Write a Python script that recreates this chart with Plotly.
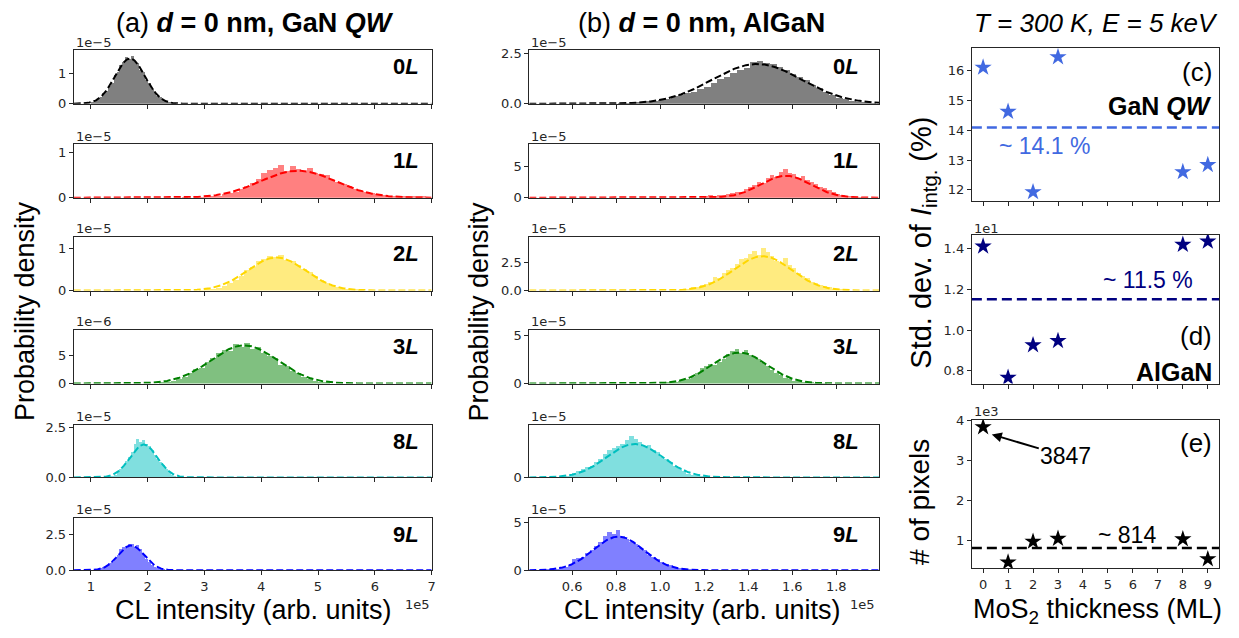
import numpy as np
import plotly.graph_objects as go

W, H = 1239, 638

# ---------------- data ----------------
layer_names = ["0", "1", "2", "3", "8", "9"]
bar_colors = ["#808080", "#ff8080", "#ffeb80", "#80c080", "#80dfdf", "#8080ff"]
fit_colors = ["#000000", "#ff0000", "#ffd700", "#008000", "#00bfbf", "#0000ff"]

# (a) GaN QW : CL intensity in units of 1e5, density in units of 10^exp
gan_bin_start = [1.00, 2.60, 2.90, 2.20, 1.25, 0.90]
gan_bin_width = [0.05, 0.10, 0.10, 0.10, 0.05, 0.05]
gan_0L = [0.05, 0.09, 0.17, 0.22, 0.35, 0.42, 0.60, 0.70, 0.95, 1.05, 1.30, 1.40, 1.55, 1.48, 1.58,
          1.40, 1.36, 1.12, 1.05, 0.80, 0.70, 0.50, 0.42, 0.26, 0.22, 0.12, 0.09, 0.05, 0.03, 0.02]
gan_1L = [0.01, 0.0, 0.02, 0.01, 0.03, 0.04, 0.05, 0.08, 0.10, 0.14, 0.20, 0.26, 0.33, 0.42, 0.55,
          0.62, 0.66, 0.72, 0.60, 0.70, 0.64, 0.58, 0.66, 0.55, 0.52, 0.50, 0.40, 0.36, 0.30, 0.26,
          0.20, 0.16, 0.12, 0.10, 0.08, 0.06, 0.05, 0.04, 0.04, 0.03, 0.04, 0.02, 0.03]
gan_2L = [0.01, 0.02, 0.04, 0.06, 0.12, 0.18, 0.26, 0.34, 0.48, 0.56, 0.70, 0.74, 0.82, 0.80, 0.84,
          0.72, 0.70, 0.60, 0.52, 0.44, 0.34, 0.26, 0.18, 0.12, 0.08, 0.05, 0.03, 0.02, 0.01]
gan_3L = [0.2, 0.4, 0.5, 0.9, 1.2, 2.0, 2.6, 2.8, 3.9, 4.6, 5.4, 6.1, 5.8, 7.0, 6.6,
          7.2, 6.2, 6.5, 5.4, 5.0, 4.6, 3.4, 3.2, 2.2, 1.9, 1.2, 0.9, 0.5, 0.4, 0.2]
gan_8L = [0.02, 0.05, 0.10, 0.15, 0.30, 0.42, 0.60, 0.85, 1.05, 1.30, 1.70, 1.95, 1.80, 1.90,
          1.70, 1.60, 1.40, 1.15, 0.95, 0.80, 0.62, 0.45, 0.30, 0.15, 0.08, 0.04, 0.03, 0.02]
gan_9L = [0.10, 0.15, 0.05, 0.10, 0.15, 0.20, 0.30, 0.35, 0.55, 0.65, 0.90, 1.10, 1.55, 1.70, 1.60,
          1.85, 1.90, 1.70, 1.80, 1.50, 1.20, 0.85, 0.60, 0.40, 0.25, 0.20, 0.12, 0.06, 0.04, 0.02,
          0.01, 0.01]
gan_fit_mean = [1.69, 4.65, 4.27, 3.70, 1.93, 1.71]
gan_fit_sigma = [0.265, 0.665, 0.51, 0.587, 0.242, 0.228]
gan_exp = [-5, -5, -5, -6, -5, -5]
gan_yticks = [[0, 1], [0, 1], [0, 1], [0, 5], [0, 2.5], [0, 2.5]]
gan_yticktext = [["0", "1"], ["0", "1"], ["0", "1"], ["0", "5"], ["0.0", "2.5"], ["0.0", "2.5"]]
gan_ymax = [1.79, 1.196, 1.27, 9.58, 2.65, 3.71]
gan_xticks = [1, 2, 3, 4, 5, 6, 7]
gan_xrange = [0.70, 7.0]

# (b) AlGaN
algan_bin_start = [0.81, 1.20, 1.08, 1.00, 0.52, 0.48]
algan_bin_width = [0.03, 0.02, 0.02, 0.02, 0.02, 0.02]
algan_0L = [0.02, 0.03, 0.05, 0.10, 0.12, 0.15, 0.20, 0.25, 0.40, 0.45, 0.55, 0.60, 0.75, 0.85, 1.00,
            1.20, 1.30, 1.50, 1.65, 1.75, 2.05, 2.10, 2.00, 1.95, 1.80, 1.65, 1.45, 1.30, 1.15, 0.95,
            0.80, 0.60, 0.45, 0.30, 0.22, 0.12, 0.08, 0.05, 0.03]
algan_1L = [0.3, 0.4, 0.2, 0.5, 0.4, 0.6, 0.7, 0.9, 1.0, 1.4, 1.8, 2.0, 2.6, 2.4, 3.2,
            3.6, 3.4, 4.2, 4.6, 4.0, 3.8, 3.2, 3.5, 2.8, 2.6, 2.2, 1.8, 1.6, 1.3, 0.9,
            0.6, 0.4, 0.3, 0.2, 0.1, 0.05]
algan_2L = [0.05, 0.1, 0.15, 0.3, 0.35, 0.5, 0.6, 0.8, 1.2, 1.1, 1.6, 1.8, 2.0, 2.4, 2.8,
            2.9, 3.3, 3.5, 3.2, 3.8, 3.4, 3.1, 2.6, 2.5, 2.9, 2.3, 2.0, 1.6, 1.3, 1.1,
            0.8, 0.7, 0.5, 0.4, 0.3, 0.2, 0.1, 0.08, 0.05]
algan_3L = [0.2, 0.1, 0.1, 0.2, 0.3, 0.4, 0.5, 0.7, 1.1, 1.6, 1.8, 2.0, 1.9, 2.3, 2.6,
            3.1, 3.4, 3.6, 3.2, 3.5, 3.0, 2.8, 2.6, 2.2, 1.8, 1.4, 1.1, 0.9, 0.6, 0.5,
            0.3, 0.25, 0.15, 0.1, 0.1, 0.05, 0.03, 0.02]
algan_8L = [0.05, 0.1, 0.1, 0.2, 0.5, 0.6, 0.8, 1.0, 1.1, 1.5, 1.8, 2.2, 2.6, 2.8, 3.0,
            3.2, 3.6, 3.9, 3.7, 3.4, 3.0, 3.1, 2.6, 2.4, 2.0, 1.8, 1.5, 1.1, 0.9, 0.6,
            0.4, 0.3, 0.25, 0.2, 0.1, 0.05, 0.02]
algan_9L = [0.1, 0.3, 0.2, 0.3, 0.4, 0.6, 1.2, 1.3, 1.4, 1.8, 2.2, 2.6, 3.0, 3.6, 4.0,
            3.8, 4.2, 3.6, 3.3, 3.0, 2.8, 2.4, 2.2, 1.6, 1.4, 1.2, 0.9, 0.7, 0.6, 0.4,
            0.3, 0.2, 0.1, 0.05, 0.03]
algan_fit_mean = [1.44, 1.57, 1.465, 1.36, 0.884, 0.81]
algan_fit_sigma = [0.2035, 0.113, 0.1308, 0.1243, 0.1267, 0.1143]
algan_exp = [-5, -5, -5, -5, -5, -5]
algan_yticks = [[0, 2.5], [0, 5], [0, 2.5], [0, 5], [0, 5], [0, 5]]
algan_yticktext = [["0.0", "2.5"], ["0", "5"], ["0.0", "2.5"], ["0", "5"], ["0", "5"], ["0", "5"]]
algan_ymax = [2.65, 8.63, 4.76, 5.57, 4.97, 5.47]
algan_xticks = [0.6, 0.8, 1.0, 1.2, 1.4, 1.6, 1.8]
algan_xticktext = ["0.6", "0.8", "1.0", "1.2", "1.4", "1.6", "1.8"]
algan_xrange = [0.405, 1.995]

# (c)-(e)
thickness = [0, 1, 2, 3, 8, 9]
gan_std = [16.10, 14.62, 11.93, 16.45, 12.60, 12.84]          # %
algan_std = [14.10, 7.67, 9.26, 9.47, 14.18, 14.34]           # %
n_pixels = [3847, 460, 980, 1050, 1040, 540]
thick_ticks = [0, 1, 2, 3, 4, 5, 6, 7, 8, 9]

gan_counts = [gan_0L, gan_1L, gan_2L, gan_3L, gan_8L, gan_9L]
algan_counts = [algan_0L, algan_1L, algan_2L, algan_3L, algan_8L, algan_9L]

# ---------------- layout geometry (pixels) ----------------
row_top = [45, 141, 236, 331, 428, 523]
row_bot = [100, 196, 291, 386, 482, 577]
col_left = [(74, 433), (531, 882)]
right_x = (975, 1223)
right_top = [43, 234, 423]
right_bot = [199, 386, 575]

AXC = "#262626"
TICKFONT = dict(family="DejaVu Sans", size=13, color=AXC)
TXT = "Liberation Sans"


def px_x(p):
    return p / W


def px_y(p):
    return 1 - p / H


def r(i, k):
    return k if i == 1 else f"{k}{i}"


def axkey(i, k):
    return f"{k}axis" if i == 1 else f"{k}axis{i}"


fig = go.Figure()
layout = {}
annotations = []


def ann(text, x, y, size, xanchor="center", yanchor="middle", color="black",
        family=TXT, angle=0):
    annotations.append(dict(text=text, x=px_x(x), y=px_y(y), xref="paper", yref="paper",
                            xanchor=xanchor, yanchor=yanchor, showarrow=False,
                            textangle=angle, font=dict(family=family, size=size, color=color)))


base_axis = dict(showline=True, mirror=True, linecolor=AXC, linewidth=1, ticks="outside",
                 ticklen=4, tickwidth=1, tickcolor=AXC, showgrid=False, zeroline=False,
                 tickfont=TICKFONT)

idx = 0
for col in range(2):
    counts_all = gan_counts if col == 0 else algan_counts
    starts = gan_bin_start if col == 0 else algan_bin_start
    widths = gan_bin_width if col == 0 else algan_bin_width
    means = gan_fit_mean if col == 0 else algan_fit_mean
    sigmas = gan_fit_sigma if col == 0 else algan_fit_sigma
    exps = gan_exp if col == 0 else algan_exp
    yt = gan_yticks if col == 0 else algan_yticks
    ytt = gan_yticktext if col == 0 else algan_yticktext
    ymax = gan_ymax if col == 0 else algan_ymax
    xr = gan_xrange if col == 0 else algan_xrange
    xt = gan_xticks if col == 0 else algan_xticks
    xtt = [str(v) for v in gan_xticks] if col == 0 else algan_xticktext
    xl, xrp = col_left[col]
    for k in range(6):
        idx += 1
        counts = np.array(counts_all[k])
        centers = starts[k] + widths[k] * (np.arange(len(counts)) + 0.5)
        fig.add_trace(go.Bar(x=centers, y=counts, width=widths[k],
                             marker=dict(color=bar_colors[k], line=dict(width=0)),
                             xaxis=r(idx, "x"), yaxis=r(idx, "y"), showlegend=False,
                             hoverinfo="skip"))
        xf = np.linspace(xr[0], xr[1], 500)
        scale = 10.0 ** (-5 - exps[k])
        yf = scale / (sigmas[k] * np.sqrt(2 * np.pi)) * np.exp(-(xf - means[k]) ** 2 / (2 * sigmas[k] ** 2))
        fig.add_trace(go.Scatter(x=xf, y=yf, mode="lines",
                                 line=dict(color=fit_colors[k], width=2, dash="7px,3px"),
                                 xaxis=r(idx, "x"), yaxis=r(idx, "y"), showlegend=False,
                                 hoverinfo="skip"))
        xa = dict(base_axis, domain=[px_x(xl), px_x(xrp)], range=xr, anchor=r(idx, "y"),
                  tickvals=xt, ticktext=xtt, showticklabels=(k == 5))
        ya = dict(base_axis, domain=[px_y(row_bot[k]), px_y(row_top[k])], range=[0, ymax[k]],
                  anchor=r(idx, "x"), tickvals=yt[k], ticktext=ytt[k])
        layout[axkey(idx, "x")] = xa
        layout[axkey(idx, "y")] = ya
        # exponent label
        ann(f"1e\u2212{-exps[k]}", xl, row_top[k] - 8, 13, xanchor="left", family="DejaVu Sans", color=AXC)
        # layer label
        lx = 422 if col == 0 else 864
        ann(f"<b>{layer_names[k]}<i>L</i></b>", lx, row_top[k] + 17, 22, xanchor="right")

# right column
right_series = [gan_std, [v / 10 for v in algan_std], [v / 1000 for v in n_pixels]]
right_colors = ["#4169e1", "#000080", "#000000"]
right_means = [np.mean(gan_std), np.mean(algan_std) / 10, np.mean(n_pixels[1:]) / 1000]
right_ranges = [[11.64, 16.75], [0.738, 1.466], [0.306, 4.03]]
right_yticks = [[12, 13, 14, 15, 16], [0.8, 1.0, 1.2, 1.4], [1, 2, 3, 4]]
right_yticktext = [["12", "13", "14", "15", "16"], ["0.8", "1.0", "1.2", "1.4"], ["1", "2", "3", "4"]]
for j in range(3):
    idx += 1
    fig.add_trace(go.Scatter(x=thickness, y=right_series[j], mode="markers",
                             marker=dict(symbol="star", size=13, color=right_colors[j], line=dict(width=0)),
                             xaxis=r(idx, "x"), yaxis=r(idx, "y"), showlegend=False))
    fig.add_trace(go.Scatter(x=[-0.45, 9.45], y=[right_means[j]] * 2, mode="lines",
                             line=dict(color=right_colors[j], width=2.5, dash="10px,5px"),
                             xaxis=r(idx, "x"), yaxis=r(idx, "y"), showlegend=False,
                             hoverinfo="skip"))
    layout[axkey(idx, "x")] = dict(base_axis, domain=[px_x(right_x[0]), px_x(right_x[1])],
                                   range=[-0.45, 9.45], anchor=r(idx, "y"), tickvals=thick_ticks,
                                   showticklabels=(j == 2))
    layout[axkey(idx, "y")] = dict(base_axis, domain=[px_y(right_bot[j]), px_y(right_top[j])],
                                   range=right_ranges[j], anchor=r(idx, "x"),
                                   tickvals=right_yticks[j], ticktext=right_yticktext[j])

ann("1e1", 975, 227, 13, xanchor="left", family="DejaVu Sans", color=AXC)
ann("1e3", 975, 415, 13, xanchor="left", family="DejaVu Sans", color=AXC)

# titles
ann("(a) <b><i>d</i> = 0 nm, GaN <i>QW</i></b>", 256, 17, 27)
ann("(b) <b><i>d</i> = 0 nm, AlGaN</b>", 704, 17, 27)
ann("<i>T = 300 K, E = 5 keV</i>", 1100, 17, 26)

# axis labels
ann("Probability density", 25, 312, 27, angle=-90)
ann("Probability density", 481, 312, 27, angle=-90)
ann("CL intensity (arb. units)", 254, 618, 27)
ann("CL intensity (arb. units)", 705, 618, 27)
ann("1e5", 433, 612, 13, xanchor="right", family="DejaVu Sans", color=AXC)
ann("1e5", 880, 612, 13, xanchor="right", family="DejaVu Sans", color=AXC)
ann("MoS<sub>2</sub> thickness (ML)", 1101, 619, 27)
ann("Std. dev. of <i>I</i><sub>intg.</sub> (%)", 926, 242, 29, angle=-90)
ann("# of pixels", 923, 507, 28, angle=-90)

# panel texts
ann("(c)", 1218, 67, 26, xanchor="right")
ann("<b>GaN <i>QW</i></b>", 1218, 102, 25, xanchor="right")
ann("~ 14.1 %", 1000, 143, 23, xanchor="left", color="#4169e1")
ann("~ 11.5 %", 1105, 280, 23, xanchor="left", color="#000080")
ann("(d)", 1218, 337, 26, xanchor="right")
ann("<b>AlGaN</b>", 1218, 374, 25, xanchor="right")
ann("(e)", 1218, 447, 26, xanchor="right")
ann("~ 814", 1100, 541, 23, xanchor="left")

# arrow to 3847
annotations.append(dict(text="3847", x=px_x(995), y=px_y(438), xref="paper", yref="paper",
                        ax=74, ay=22, showarrow=True, arrowhead=2, arrowsize=1, arrowwidth=2,
                        arrowcolor="black", font=dict(family=TXT, size=23, color="black")))

fig.update_layout(**layout)
fig.update_layout(width=W, height=H, margin=dict(l=0, r=0, t=0, b=0), paper_bgcolor="white",
                  plot_bgcolor="white", barmode="overlay", bargap=0, showlegend=False,
                  annotations=annotations)

fig.write_html("out.html", config={"displayModeBar": False})
